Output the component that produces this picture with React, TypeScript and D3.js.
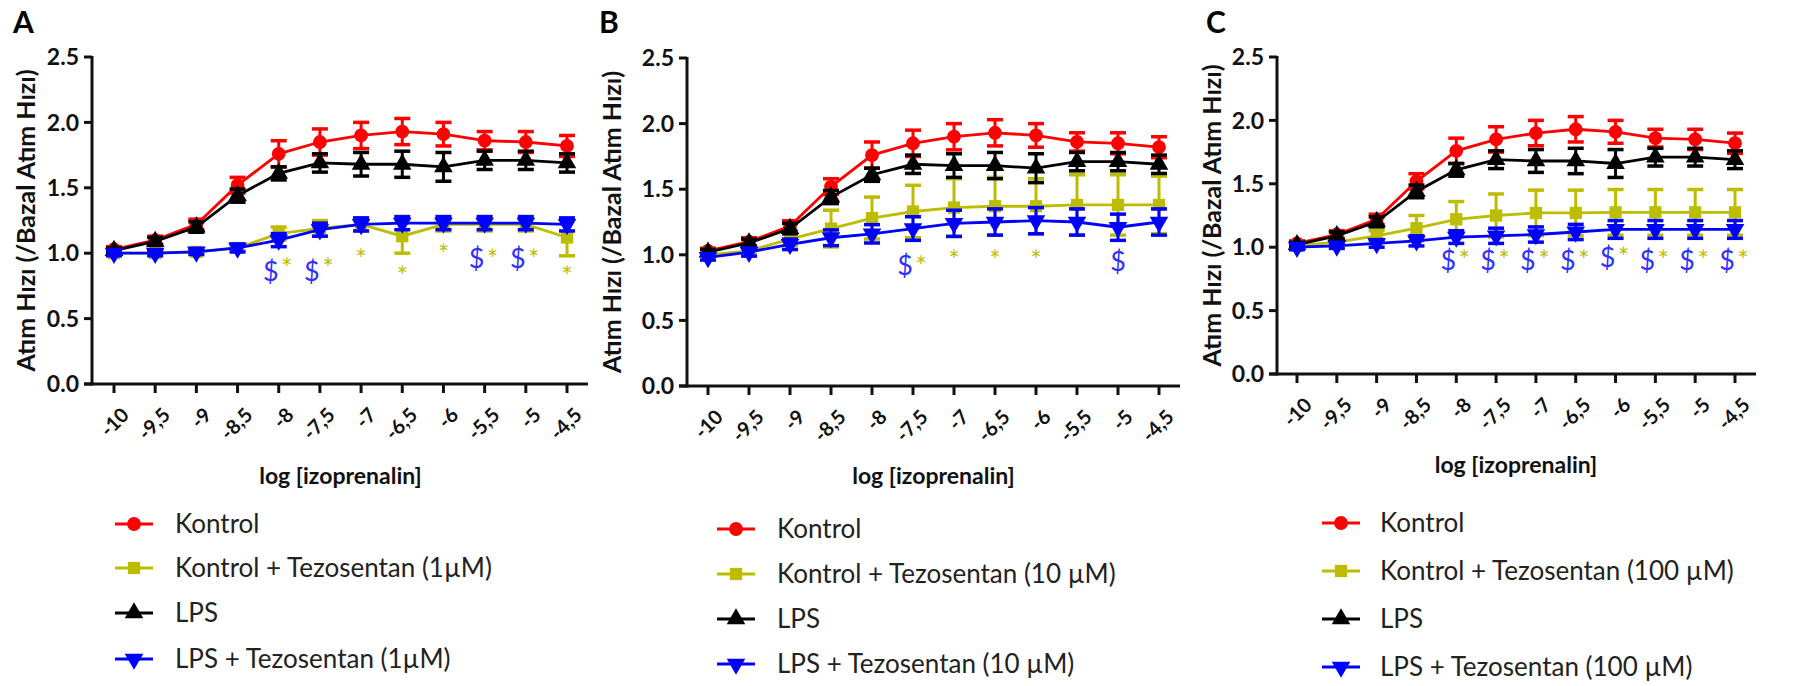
import React from "react";
import * as d3 from "d3";

// log [izoprenalin] concentrations and their axis labels
const doses = [-10, -9.5, -9, -8.5, -8, -7.5, -7, -6.5, -6, -5.5, -5, -4.5];
const doseLabels = ["-10", "-9,5", "-9", "-8,5", "-8", "-7,5", "-7", "-6,5", "-6", "-5,5", "-5", "-4,5"];
const yTicks = [0, 0.5, 1.0, 1.5, 2.0, 2.5];

// Shared groups (same in every panel)
const kontrol = [1.03, 1.1, 1.22, 1.52, 1.76, 1.85, 1.9, 1.93, 1.91, 1.86, 1.85, 1.82];
const kontrolErr = [0.02, 0.03, 0.04, 0.06, 0.1, 0.1, 0.1, 0.1, 0.09, 0.07, 0.08, 0.08];
const lps = [1.02, 1.09, 1.2, 1.44, 1.61, 1.69, 1.68, 1.68, 1.66, 1.71, 1.71, 1.69];
const lpsErr = [0.02, 0.03, 0.04, 0.05, 0.05, 0.07, 0.09, 0.1, 0.11, 0.07, 0.07, 0.07];

// Tezosentan 1 µM
const kontrolTez1 = [1.0, 1.0, 1.01, 1.04, 1.15, 1.19, 1.22, 1.13, 1.22, 1.22, 1.22, 1.12];
const kontrolTez1Err = [0.01, 0.01, 0.02, 0.02, 0.05, 0.06, 0.05, 0.13, 0.05, 0.05, 0.05, 0.14];
const lpsTez1 = [1.0, 1.0, 1.01, 1.04, 1.1, 1.18, 1.22, 1.23, 1.23, 1.23, 1.23, 1.22];
const lpsTez1Err = [0.02, 0.02, 0.02, 0.03, 0.05, 0.05, 0.05, 0.05, 0.05, 0.05, 0.05, 0.05];

// Tezosentan 10 µM
const kontrolTez10 = [1.0, 1.03, 1.12, 1.2, 1.28, 1.33, 1.36, 1.37, 1.37, 1.38, 1.38, 1.38];
const kontrolTez10Err = [0.01, 0.03, 0.05, 0.14, 0.16, 0.2, 0.22, 0.22, 0.21, 0.23, 0.23, 0.22];
const lpsTez10 = [0.98, 1.02, 1.08, 1.13, 1.16, 1.2, 1.24, 1.25, 1.26, 1.25, 1.21, 1.25];
const lpsTez10Err = [0.02, 0.03, 0.04, 0.06, 0.07, 0.09, 0.1, 0.1, 0.1, 0.1, 0.1, 0.1];

// Tezosentan 100 µM
const kontrolTez100 = [1.01, 1.04, 1.09, 1.15, 1.22, 1.25, 1.27, 1.27, 1.275, 1.275, 1.275, 1.275];
const kontrolTez100Err = [0.01, 0.02, 0.04, 0.1, 0.14, 0.17, 0.18, 0.18, 0.18, 0.18, 0.18, 0.18];
const lpsTez100 = [1.0, 1.01, 1.03, 1.05, 1.08, 1.09, 1.1, 1.12, 1.14, 1.14, 1.14, 1.14];
const lpsTez100Err = [0.02, 0.02, 0.03, 0.04, 0.05, 0.06, 0.06, 0.06, 0.07, 0.07, 0.07, 0.07];

// Significance marks: [dose, symbol, y value]
const marksA: [number, string, number][] = [
  [-8, "$", 0.86], [-8, "*", 0.93], [-7.5, "$", 0.86], [-7.5, "*", 0.93],
  [-7, "*", 1.0], [-6.5, "*", 0.87], [-6, "*", 1.04],
  [-5.5, "$", 0.96], [-5.5, "*", 1.0], [-5, "$", 0.96], [-5, "*", 1.0], [-4.5, "*", 0.87],
];
const marksB: [number, string, number][] = [
  [-7.5, "$", 0.92], [-7.5, "*", 0.96], [-7, "*", 1.01], [-6.5, "*", 1.01], [-6, "*", 1.01], [-5, "$", 0.95],
];
const marksC: [number, string, number][] = [
  [-8, "$", 0.9], [-8, "*", 0.95], [-7.5, "$", 0.9], [-7.5, "*", 0.95],
  [-7, "$", 0.9], [-7, "*", 0.95], [-6.5, "$", 0.9], [-6.5, "*", 0.95],
  [-6, "$", 0.92], [-6, "*", 0.97], [-5.5, "$", 0.9], [-5.5, "*", 0.95],
  [-5, "$", 0.9], [-5, "*", 0.95], [-4.5, "$", 0.9], [-4.5, "*", 0.95],
];

const RED = "#ff0000";
const OLIVE = "#bdbd00";
const BLACK = "#000000";
const BLUE = "#0000ff";
const FONT = "Lato, 'Open Sans', sans-serif";

type Series = { name: string; values: number[]; errs: number[]; color: string; shape: string };

type Layout = {
  letter: string; letterX: number;
  axisX: number; yTop: number; yBottom: number;
  xFirst: number; xLast: number; xEnd: number;
  titleX: number; xTitleY: number;
  legLineX: number; legTextX: number; legRows: number[];
};

const makeSeries = (kt: number[], ktE: number[], lt: number[], ltE: number[], dose: string): Series[] => [
  { name: "Kontrol", values: kontrol, errs: kontrolErr, color: RED, shape: "circle" },
  { name: `Kontrol + Tezosentan (${dose})`, values: kt, errs: ktE, color: OLIVE, shape: "square" },
  { name: "LPS", values: lps, errs: lpsErr, color: BLACK, shape: "up" },
  { name: `LPS + Tezosentan (${dose})`, values: lt, errs: ltE, color: BLUE, shape: "down" },
];

const panels: { layout: Layout; series: Series[]; marks: [number, string, number][] }[] = [
  {
    layout: { letter: "A", letterX: 13, axisX: 92, yTop: 57, yBottom: 384, xFirst: 114, xLast: 567, xEnd: 588,
      titleX: 26, xTitleY: 476, legLineX: 115, legTextX: 175, legRows: [524, 568, 613, 659] },
    series: makeSeries(kontrolTez1, kontrolTez1Err, lpsTez1, lpsTez1Err, "1µM"),
    marks: marksA,
  },
  {
    layout: { letter: "B", letterX: 599, axisX: 687, yTop: 58, yBottom: 386, xFirst: 708, xLast: 1159, xEnd: 1180,
      titleX: 612, xTitleY: 476, legLineX: 717, legTextX: 777, legRows: [529, 574, 619, 664] },
    series: makeSeries(kontrolTez10, kontrolTez10Err, lpsTez10, lpsTez10Err, "10 µM"),
    marks: marksB,
  },
  {
    layout: { letter: "C", letterX: 1206, axisX: 1277, yTop: 57, yBottom: 374, xFirst: 1297, xLast: 1735, xEnd: 1756,
      titleX: 1212, xTitleY: 465, legLineX: 1322, legTextX: 1380, legRows: [523, 571, 619, 667] },
    series: makeSeries(kontrolTez100, kontrolTez100Err, lpsTez100, lpsTez100Err, "100 µM"),
    marks: marksC,
  },
];

function symbolPath(shape: string): string {
  const s = d3.symbol();
  if (shape === "circle") return s.type(d3.symbolCircle).size(150)() as string;
  if (shape === "square") return s.type(d3.symbolSquare).size(150)() as string;
  return s.type(d3.symbolTriangle).size(150)() as string;
}

function Marker({ shape, color, x, y }: { shape: string; color: string; x: number; y: number }) {
  const rot = shape === "down" ? " rotate(180)" : "";
  return <path d={symbolPath(shape)} transform={`translate(${x},${y})${rot}`} fill={color} />;
}

function Panel({ layout, series, marks }: { layout: Layout; series: Series[]; marks: [number, string, number][] }) {
  const x = d3.scaleLinear().domain([doses[0], doses[doses.length - 1]]).range([layout.xFirst, layout.xLast]);
  const y = d3.scaleLinear().domain([0, 2.5]).range([layout.yBottom, layout.yTop]);
  const fmt = d3.format(".1f");
  const line = d3.line<number>().x((_, i) => x(doses[i])).y((v) => y(v));
  const cap = 8;

  return (
    <g>
      <text x={layout.letterX} y={33} fontFamily={FONT} fontWeight={700} fontSize={30} fill="#000">
        {layout.letter}
      </text>

      {/* y axis */}
      <line x1={layout.axisX} x2={layout.axisX} y1={layout.yBottom + 1.5} y2={layout.yTop - 1} stroke="#111" strokeWidth={3} />
      {yTicks.map((t) => (
        <g key={t}>
          <line x1={layout.axisX - 8} x2={layout.axisX} y1={y(t)} y2={y(t)} stroke="#111" strokeWidth={3} />
          <text x={layout.axisX - 13} y={y(t)} dy="0.36em" textAnchor="end" fontFamily={FONT} fontWeight={700} fontSize={23} fill="#111">
            {fmt(t)}
          </text>
        </g>
      ))}
      <text
        transform={`translate(${layout.titleX},${(layout.yTop + layout.yBottom) / 2}) rotate(-90)`}
        textAnchor="middle" dy="0.35em" fontFamily={FONT} fontWeight={700} fontSize={25} fill="#111"
      >
        Atım Hızı (/Bazal Atım Hızı)
      </text>

      {/* x axis */}
      <line x1={layout.axisX - 8} x2={layout.xEnd} y1={layout.yBottom} y2={layout.yBottom} stroke="#111" strokeWidth={3} />
      {doses.map((d, i) => (
        <g key={d}>
          <line x1={x(d)} x2={x(d)} y1={layout.yBottom} y2={layout.yBottom + 9} stroke="#111" strokeWidth={3} />
          <text
            transform={`translate(${x(d) + 5},${layout.yBottom + 21}) rotate(-45)`}
            textAnchor="end" dominantBaseline="hanging" fontFamily={FONT} fontWeight={700} fontSize={20} fill="#111"
          >
            {doseLabels[i]}
          </text>
        </g>
      ))}
      <text x={(layout.xFirst + layout.xLast) / 2} y={layout.xTitleY} dy="0.35em" textAnchor="middle"
        fontFamily={FONT} fontWeight={700} fontSize={23} fill="#111">
        log [izoprenalin]
      </text>

      {/* series */}
      {series.map((s) => (
        <g key={s.name}>
          <path d={line(s.values) as string} fill="none" stroke={s.color} strokeWidth={2.8} />
          {s.values.map((v, i) => {
            const cx = x(doses[i]);
            const hi = y(v + s.errs[i]);
            const lo = y(v - s.errs[i]);
            return (
              <g key={i}>
                <line x1={cx} x2={cx} y1={hi} y2={lo} stroke={s.color} strokeWidth={3} />
                <line x1={cx - cap} x2={cx + cap} y1={hi} y2={hi} stroke={s.color} strokeWidth={3.5} />
                <line x1={cx - cap} x2={cx + cap} y1={lo} y2={lo} stroke={s.color} strokeWidth={3.5} />
                <Marker shape={s.shape} color={s.color} x={cx} y={y(v)} />
              </g>
            );
          })}
        </g>
      ))}

      {/* significance marks */}
      {marks.map(([d, sym, v], i) => {
        const paired = marks.some(([d2, s2]) => d2 === d && s2 !== sym);
        const dx = paired ? (sym === "$" ? -8 : 8) : 0;
        const isDollar = sym === "$";
        return (
          <text key={i} x={x(d) + dx} y={y(v)} dy={isDollar ? "0.36em" : "0.62em"} textAnchor="middle" fontFamily={FONT}
            fontSize={isDollar ? 27 : 26} fill={isDollar ? "#3030ff" : OLIVE}>
            {sym}
          </text>
        );
      })}

      {/* legend */}
      {series.map((s, i) => {
        const ly = layout.legRows[i];
        return (
          <g key={s.name}>
            <line x1={layout.legLineX} x2={layout.legLineX + 38} y1={ly} y2={ly} stroke={s.color} strokeWidth={3} />
            <Marker shape={s.shape} color={s.color} x={layout.legLineX + 19} y={ly} />
            <text x={layout.legTextX} y={ly} dy="0.36em" fontFamily={FONT} fontSize={26} fill="#222">
              {s.name}
            </text>
          </g>
        );
      })}
    </g>
  );
}

export default function App() {
  return (
    <svg width={1807} height={686} style={{ position: "absolute", left: 0, top: 0, background: "#fff" }}>
      <rect width={1807} height={686} fill="#fff" />
      {panels.map((p) => (
        <Panel key={p.layout.letter} layout={p.layout} series={p.series} marks={p.marks} />
      ))}
    </svg>
  );
}
